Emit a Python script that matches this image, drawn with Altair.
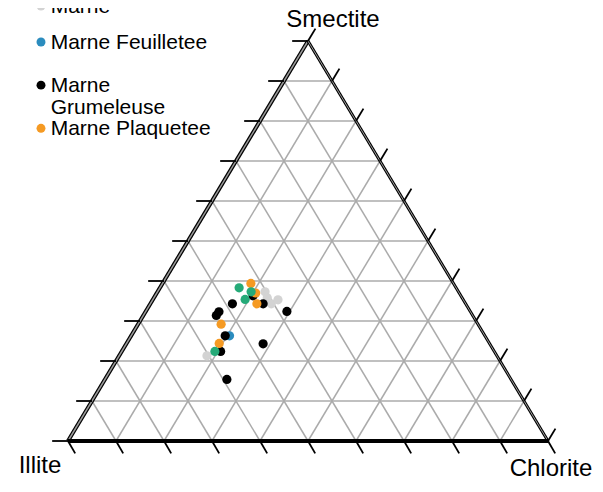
import altair as alt
import pandas as pd

# ---- data: clay fractions (%) ----
group_names = ["Marne", "Marne Feuilletee", "Marne Grumeleuse", "Marne Plaquetee", "Calcaire"]
group_colors = ["#d3d3d3", "#2b8cbe", "#000000", "#f59a23", "#25aa78"]

marne_smectite = [37.3, 35.8, 34.3, 35.3, 21.3]
marne_illite = [40.3, 40.6, 40.5, 38.6, 60.4]
marne_chlorite = [22.4, 23.6, 25.2, 26.1, 18.3]

feuilletee_smectite = [26.3]
feuilletee_illite = [53.2]
feuilletee_chlorite = [20.5]

grumeleuse_smectite = [36.3, 34.3, 34.3, 32.4, 32.3, 31.4, 26.3, 24.3, 22.4, 15.4]
grumeleuse_illite = [43.3, 42.2, 48.6, 38.2, 52.4, 53.4, 54.1, 47.2, 57.0, 59.2]
grumeleuse_chlorite = [20.4, 23.5, 17.1, 29.4, 15.3, 15.2, 19.6, 28.5, 20.6, 25.4]

plaquetee_smectite = [39.4, 37.0, 34.3, 29.2, 24.4]
plaquetee_illite = [42.2, 42.4, 43.5, 53.5, 56.3]
plaquetee_chlorite = [18.4, 20.6, 22.2, 17.3, 19.3]

calcaire_smectite = [38.3, 37.3, 35.4, 22.4]
calcaire_illite = [45.2, 43.2, 45.4, 58.2]
calcaire_chlorite = [16.5, 19.5, 19.2, 19.4]

grid_levels = [10, 20, 30, 40, 50, 60, 70, 80, 90]
tick_levels = [0, 10, 20, 30, 40, 50, 60, 70, 80, 90, 100]

legend_groups = ["Marne", "Marne Feuilletee", "Marne Grumeleuse", "Marne Plaquetee"]
legend_labels = ["Marne", "Marne Feuilletee", "Marne\nGrumeleuse", "Marne Plaquetee"]

# vertices of the ternary triangle in (x, y) units: Illite, Chlorite, Smectite
vertex_names = ["Illite", "Chlorite", "Smectite"]
vertex_x = [0, 100, 50]
vertex_y = [0, 0, 100]

# ---- tables ----
groups = [
    ("Marne", marne_smectite, marne_illite, marne_chlorite),
    ("Marne Feuilletee", feuilletee_smectite, feuilletee_illite, feuilletee_chlorite),
    ("Marne Grumeleuse", grumeleuse_smectite, grumeleuse_illite, grumeleuse_chlorite),
    ("Marne Plaquetee", plaquetee_smectite, plaquetee_illite, plaquetee_chlorite),
    ("Calcaire", calcaire_smectite, calcaire_illite, calcaire_chlorite),
]
rows = []
for name, ss, ii, cc in groups:
    for s, i, c in zip(ss, ii, cc):
        rows.append({"group": name, "smectite": s, "illite": i, "chlorite": c})
pts = pd.DataFrame(rows)

grid_df = pd.DataFrame({"k": grid_levels})
tick_df = pd.DataFrame({"k": tick_levels})
edges_df = pd.DataFrame({
    "a": [vertex_x[0], vertex_x[1], vertex_x[0]],
    "b": [vertex_y[0], vertex_y[1], vertex_y[0]],
    "a2": [vertex_x[2], vertex_x[2], vertex_x[1]],
    "b2": [vertex_y[2], vertex_y[2], vertex_y[1]],
    "side": ["left", "right", "bottom"],
})
legend_df = pd.DataFrame({"group": legend_groups, "label": legend_labels,
                          "slot": list(range(len(legend_groups)))})

FONT = "Liberation Sans"
XS = alt.Scale(domain=[0, 100], nice=False, zero=False)
YS = alt.Scale(domain=[0, 100], nice=False, zero=False)
CS = alt.Scale(domain=group_names, range=group_colors)


def rules(df, a, b, a2, b2, color, width):
    return alt.Chart(df).transform_calculate(a=a, b=b, a2=a2, b2=b2).mark_rule(
        color=color, strokeWidth=width
    ).encode(
        x=alt.X("a:Q", scale=XS, axis=None),
        y=alt.Y("b:Q", scale=YS, axis=None),
        x2="a2:Q",
        y2="b2:Q",
    )


def edge(side, color, width):
    return alt.Chart(edges_df).transform_filter(f"datum.side=='{side}'").mark_rule(
        color=color, strokeWidth=width
    ).encode(
        x=alt.X("a:Q", scale=XS, axis=None),
        y=alt.Y("b:Q", scale=YS, axis=None),
        x2="a2:Q",
        y2="b2:Q",
    )


GRID = "#ababab"
grid_h = rules(grid_df, "datum.k/2", "datum.k", "100-datum.k/2", "datum.k", GRID, 1.5)
grid_c = rules(grid_df, "datum.k", "0", "50+datum.k/2", "100-datum.k", GRID, 1.5)
grid_i = rules(grid_df, "100-datum.k", "0", "(100-datum.k)/2", "100-datum.k", GRID, 1.5)

edge_left = edge("left", "black", 4)
edge_left_g = edge("left", "#9a9a9a", 1.5)
edge_right = edge("right", "black", 3)
edge_right_g = edge("right", "#9a9a9a", 1)
edge_bottom = edge("bottom", "black", 4)

tick_left = rules(tick_df, "datum.k/2", "datum.k", "datum.k/2-3.3", "datum.k", "black", 1.8)
tick_bottom = rules(tick_df, "datum.k", "0", "datum.k+1.5", "-3.1", "black", 1.8)
tick_right = rules(tick_df, "100-datum.k/2", "datum.k", "100-datum.k/2+1.55", "datum.k+3.1", "black", 1.8)

points = alt.Chart(pts).transform_calculate(
    tx="datum.chlorite + datum.smectite/2", ty="datum.smectite"
).mark_circle(size=85, opacity=1).encode(
    x=alt.X("tx:Q", scale=XS, axis=None),
    y=alt.Y("ty:Q", scale=YS, axis=None),
    color=alt.Color("group:N", scale=CS, legend=None),
)


def vertex_title(idx, dx, dy):
    df = pd.DataFrame({"label": [vertex_names[idx]], "a": [vertex_x[idx]], "b": [vertex_y[idx]]})
    return alt.Chart(df).mark_text(
        font=FONT, fontSize=24, color="black", align="center", baseline="alphabetic", dx=dx, dy=dy
    ).encode(
        x=alt.X("a:Q", scale=XS, axis=None),
        y=alt.Y("b:Q", scale=YS, axis=None),
        text="label:N",
    )


t_illite = vertex_title(0, -28, 32)
t_chlorite = vertex_title(1, 3, 35)
t_smectite = vertex_title(2, 25, -14)

# legend layout (first entry is clipped by the top edge, as in the reference)
LEG = alt.Scale(domain=[0, 1, 3], range=[-35, 1, 87.3])
legend_pts = alt.Chart(legend_df).mark_circle(size=80, opacity=1).encode(
    x=alt.value(-27),
    y=alt.Y("slot:Q", scale=LEG, axis=None),
    color=alt.Color("group:N", scale=CS, legend=None),
)
legend_txt = alt.Chart(legend_df).mark_text(
    font=FONT, fontSize=21, color="black", align="left", baseline="alphabetic",
    dy=7, lineBreak="\n", lineHeight=22
).encode(
    x=alt.value(-17.3),
    y=alt.Y("slot:Q", scale=LEG, axis=None),
    text="label:N",
)

chart = alt.layer(
    grid_h, grid_c, grid_i,
    edge_left, edge_left_g, edge_right, edge_right_g, edge_bottom,
    tick_left, tick_bottom, tick_right,
    points,
    t_illite, t_chlorite, t_smectite,
    legend_pts, legend_txt,
).resolve_scale(y="independent", x="independent").properties(
    width=480,
    height=400,
    autosize=alt.AutoSizeParams(type="none"),
    padding={"left": 60, "top": 33, "right": 45, "bottom": 38},
    background="white",
).configure_view(stroke=None)

chart.save("out.html", embed_options={"renderer": "svg", "actions": False})
